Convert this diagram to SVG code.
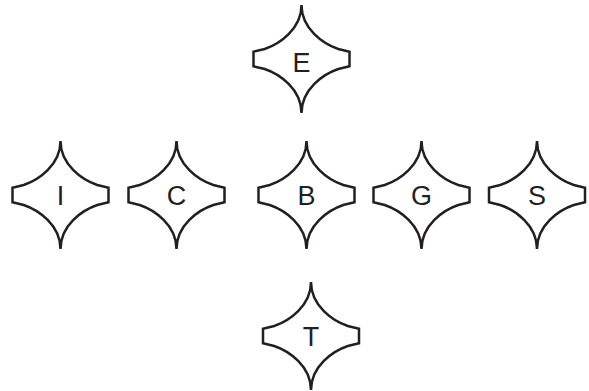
<svg xmlns="http://www.w3.org/2000/svg" xmlns:xlink="http://www.w3.org/1999/xlink" width="589" height="391" viewBox="0 0 589 391">
<style>
.star{fill:#fff;stroke:#231f20;stroke-width:2.5;stroke-linejoin:miter}
.lbl{font-family:"Liberation Sans",Arial,sans-serif;font-size:27px;fill:#231f20;text-anchor:middle}
</style>
<defs>
<path id="star" class="star" d="M0,-54 C0,-30 -22,-15 -36.8,-10 L-48,-7.3 L-48,7.3 L-36.8,10 C-22,15 0,30 0,54 C0,30 22,15 36.8,10 L48,7.3 L48,-7.3 L36.8,-10 C22,-15 0,-30 0,-54 Z"/>
</defs>
<rect width="589" height="391" fill="#fff"/>
<g id="connectors"></g>
<g id="E" transform="translate(301.5,59)"><use xlink:href="#star"/><text class="lbl" x="0" y="13">E</text></g>
<g id="I" transform="translate(60.5,195)"><use xlink:href="#star"/><text class="lbl" x="0" y="10">I</text></g>
<g id="C" transform="translate(176.5,195)"><use xlink:href="#star"/><text class="lbl" x="0" y="10">C</text></g>
<g id="B" transform="translate(306.5,195)"><use xlink:href="#star"/><text class="lbl" x="0" y="10">B</text></g>
<g id="G" transform="translate(421.5,195)"><use xlink:href="#star"/><text class="lbl" x="0" y="10">G</text></g>
<g id="S" transform="translate(537,195)"><use xlink:href="#star"/><text class="lbl" x="0" y="10">S</text></g>
<g id="T" transform="translate(311,336)"><use xlink:href="#star"/><text class="lbl" x="0" y="10">T</text></g>
</svg>
